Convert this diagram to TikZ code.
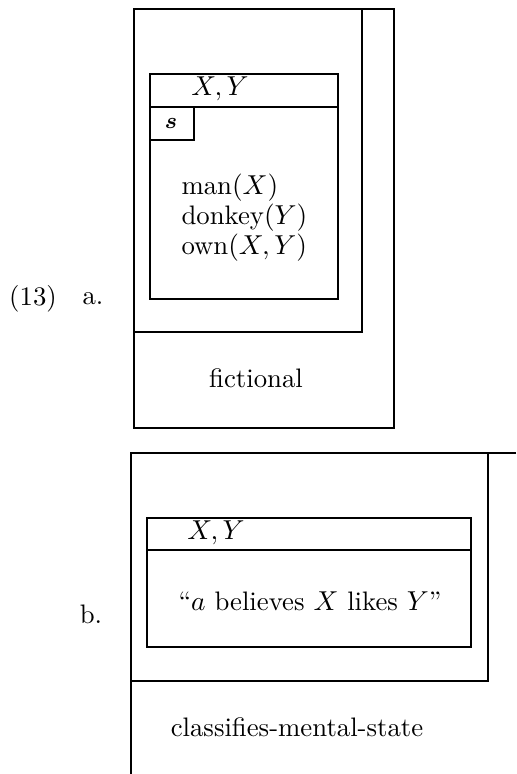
\documentclass[tikz,border=0pt]{standalone}
\usepackage{amsmath}
\usetikzlibrary{positioning}

\begin{document}
\begin{tikzpicture}[
    x=0.4pt, y=-0.4pt,
    frame/.style={line width=1pt},
    txt/.style={inner sep=0pt, font=\fontsize{10.7}{12}\selectfont},
    conds/.style={inner sep=0pt, align=left, font=\fontsize{10.7}{12}\selectfont}
  ]
    \useasboundingbox (0,0) rectangle (516,774);
    % (13a): fictional situation
    \draw[frame] (134,9) rectangle (394,428);
    \draw[frame] (134,9) rectangle (362,332);
    \draw[frame] (150,74) rectangle (338,299);
    \draw[frame] (150,107) -- (338,107);
    \draw[frame] (150,107) rectangle (194,140);
    \node[txt] (num) at (33,299) {(13)};
    \node[txt] (ia) at (93,299) {a.};
    \node[txt] (refa) at (220,89) {$X,Y$};
    \node[txt, font=\small] (sit) at (171,123) {$\boldsymbol{s}$};
    \node[conds, anchor=west] (conda) at (181,218) {man$(X)$\\donkey$(Y)$\\own$(X,Y)$};
    \node[txt] (fict) at (256,378) {fictional};
    % (13b): mental state, cut off at the page edge
    \draw[frame] (516,453) -- (131,453) -- (131,774);
    \draw[frame] (131,681) -- (488,681) -- (488,453);
    \draw[frame] (147,518) rectangle (471,647);
    \draw[frame] (147,550) -- (471,550);
    \node[txt] (ib) at (91,614) {b.};
    \node[txt] (refb) at (216,533) {$X,Y$};
    \node[txt] (condb) at (310,601) {``$a$ believes $X$ likes $Y$''};
    \node[txt] (cms) at (297,727) {classifies-mental-state};
  \end{tikzpicture}
\end{document}
